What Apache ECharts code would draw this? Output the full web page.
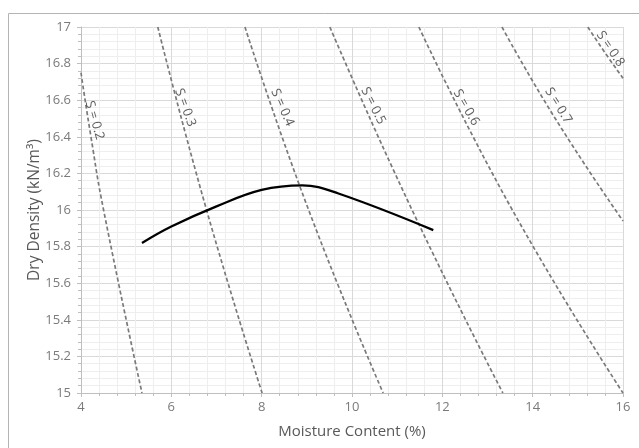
<!DOCTYPE html>
<html>
<head>
<meta charset="utf-8">
<script src="https://cdn.jsdelivr.net/npm/echarts@6/dist/echarts.min.js"></script>
<style>
  html, body { margin: 0; background: #fff; }
  #chart { width: 639px; height: 448px; }
</style>
</head>
<body>
<div id="chart"></div>
<script>
// compaction curve
const moisture = [5.35, 6.0, 7.0, 8.0, 8.9, 9.7, 11.8]
const dryDensity = [15.82, 15.91, 16.02, 16.11, 16.135, 16.09, 15.89]

// saturation lines [moisture %, dry density]
const s02 = [[4.00, 16.75], [4.22, 16.40], [4.50, 16.00], [5.35, 15.00]]
const s03 = [[5.70, 17.00], [6.78, 16.00], [8.01, 15.00]]
const s04 = [[7.63, 17.00], [9.04, 16.00], [10.69, 15.00]]
const s05 = [[9.51, 17.00], [11.33, 16.00], [13.34, 15.00]]
const s06 = [[11.48, 17.00], [13.55, 16.00], [16.00, 15.00]]
const s07 = [[13.32, 17.00], [14.50, 16.50], [16.00, 15.94]]
const s08 = [[15.22, 17.00], [15.60, 16.86], [16.00, 16.72]]
const satNames = ['S = 0.2', 'S = 0.3', 'S = 0.4', 'S = 0.5', 'S = 0.6', 'S = 0.7', 'S = 0.8']
const satLines = [s02, s03, s04, s05, s06, s07, s08]

// where each S label sits, and its slant
const labelAnchors = [[4.30, 16.49], [6.31, 16.56], [8.46, 16.56], [10.47, 16.57], [12.53, 16.56], [14.57, 16.57], [15.72, 16.88]]
const labelAngles = [-74, -70, -66, -63, -60, -58, -56]

const FONT = '"Open Sans", sans-serif'
const chart = echarts.init(document.getElementById('chart'))

const axisCommon = {
  type: 'value',
  axisLine: { show: true, onZero: false, lineStyle: { color: '#bfbfbf' } },
  axisTick: { show: true, length: 4, lineStyle: { color: '#bfbfbf' } },
  minorTick: { show: true, splitNumber: 5, length: 3, lineStyle: { color: '#bfbfbf' } },
  splitLine: { show: true, lineStyle: { color: '#d9d9d9' } },
  minorSplitLine: { show: true, lineStyle: { color: '#eeeeee' } },
  axisLabel: { color: '#7a7a7a', fontSize: 13, fontFamily: FONT },
  nameLocation: 'middle',
  nameMoveOverlap: false,
  nameTextStyle: { color: '#595959', fontSize: 15, fontFamily: FONT },
}

const series = satLines.map((pts, i) => ({
  name: satNames[i],
  type: 'line',
  data: pts,
  smooth: true,
  symbol: 'none',
  silent: true,
  lineStyle: { color: '#7a7a7a', width: 1.7, type: [4, 2.5] },
}))

series.push({
  name: 'Compaction',
  type: 'line',
  data: moisture.map((w, i) => [w, dryDensity[i]]),
  smooth: 0.4,
  symbol: 'none',
  lineStyle: { color: '#000', width: 2.3 },
  z: 5,
})

series.push({
  type: 'scatter',
  symbolSize: 0,
  silent: true,
  data: labelAnchors.map((p, i) => ({
    value: p,
    label: { formatter: satNames[i], rotate: labelAngles[i] },
  })),
  label: {
    show: true,
    position: 'inside',
    color: '#333',
    fontSize: 13,
    fontFamily: FONT,
  },
  z: 6,
})

chart.setOption({
  animation: false,
  backgroundColor: '#fff',
  grid: { left: 81, right: 16, top: 27, bottom: 55 },
  graphic: [{
    type: 'rect',
    shape: { x: 8.5, y: 13.5, width: 640, height: 450 },
    style: { fill: 'none', stroke: '#b4b4b4', lineWidth: 1 },
    silent: true,
  }],
  xAxis: Object.assign({}, axisCommon, {
    min: 4, max: 16, interval: 2,
    name: 'Moisture Content (%)',
    nameGap: 31,
    axisLabel: Object.assign({}, axisCommon.axisLabel, { margin: 8 }),
  }),
  yAxis: Object.assign({}, axisCommon, {
    min: 15, max: 17, interval: 0.2,
    name: 'Dry Density (kN/m³)',
    nameGap: 38,
    nameTextStyle: Object.assign({}, axisCommon.nameTextStyle, { fontSize: 15.5 }),
    axisLabel: Object.assign({}, axisCommon.axisLabel, { margin: 10 }),
  }),
  series,
})
</script>
</body>
</html>
